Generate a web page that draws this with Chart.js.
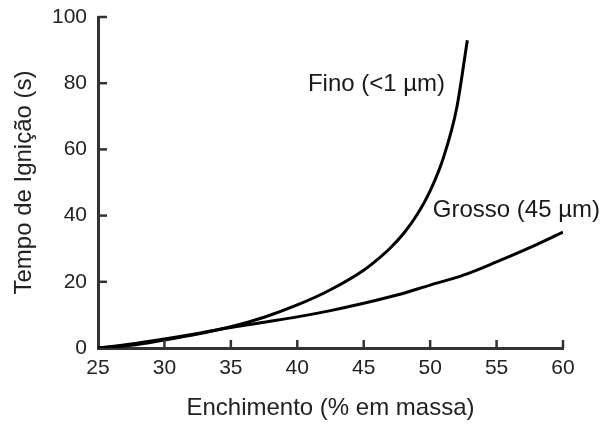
<!DOCTYPE html>
<html>
<head>
<meta charset="utf-8">
<script src="https://cdn.jsdelivr.net/npm/chart.js@4/dist/chart.umd.min.js"></script>
<style>
  html, body { margin: 0; padding: 0; background: #fff; }
  #wrap { width: 604px; height: 425px; position: relative; }
</style>
</head>
<body>
<div id="wrap"><canvas id="ignChart"></canvas></div>
<script>
// Fino (<1 um) curve
const fineX = [25, 27.5, 30, 32.5, 35, 37.5, 40, 42.5, 45, 46, 47, 48, 49, 50, 51, 52, 52.8];
const fineY = [0, 0.8, 2.4, 4.2, 6.4, 9.3, 13, 17.6, 23.5, 26.6, 30.2, 34.6, 40.2, 47.5, 57.5, 72.5, 93];

// Grosso (45 um) curve
const coarseX = [25, 27.5, 30, 32.5, 35, 37.5, 40, 42.5, 45, 47.5, 50, 52.5, 55, 57.5, 60];
const coarseY = [0, 1.2, 2.7, 4.4, 6.2, 7.8, 9.4, 11.3, 13.5, 16, 19, 22, 26, 30.3, 35];

// axis ticks
const xTicks = [25, 30, 35, 40, 45, 50, 55, 60];
const yTicks = [0, 20, 40, 60, 80, 100];

// curve labels [text, x, y]
const curveLabels = [
    ['Fino (<1 \u00b5m)', 40.8, 79.6],
    ['Grosso (45 \u00b5m)', 50.2, 41.5]
];

const axisColor = '#333';
const fontFam = '"Liberation Sans", Arial, sans-serif';

const toPoints = (xs, ys) => xs.map((x, i) => ({ x: x, y: ys[i] }));

// draw tick marks pointing into the plot, like the original figure
const innerTicks = {
    id: 'innerTicks',
    afterDraw(chart) {
        const ctx = chart.ctx;
        const xs = chart.scales.x;
        const ys = chart.scales.y;
        ctx.save();
        ctx.strokeStyle = axisColor;
        ctx.lineWidth = 2.5;
        xTicks.forEach(v => {
            if (v === xs.min) return;
            const px = xs.getPixelForValue(v);
            ctx.beginPath();
            ctx.moveTo(px, ys.bottom);
            ctx.lineTo(px, ys.bottom - 8);
            ctx.stroke();
        });
        yTicks.forEach(v => {
            if (v === ys.min) return;
            const py = ys.getPixelForValue(v);
            ctx.beginPath();
            ctx.moveTo(xs.left, py);
            ctx.lineTo(xs.left + 9, py);
            ctx.stroke();
        });
        ctx.restore();
    }
};

// curve name labels
const curveText = {
    id: 'curveText',
    afterDraw(chart) {
        const ctx = chart.ctx;
        const xs = chart.scales.x;
        const ys = chart.scales.y;
        ctx.save();
        ctx.fillStyle = '#1a1a1a';
        ctx.textBaseline = 'middle';
        ctx.textAlign = 'left';
        ctx.font = '24px ' + fontFam;
        curveLabels.forEach(([txt, x, y]) => {
            ctx.fillText(txt, xs.getPixelForValue(x), ys.getPixelForValue(y));
        });
        ctx.restore();
    }
};

new Chart(document.getElementById('ignChart'), {
    type: 'line',
    data: {
        datasets: [
            {
                label: 'Fino (<1 \u00b5m)',
                data: toPoints(fineX, fineY),
                borderColor: '#000',
                borderWidth: 3,
                pointRadius: 0,
                cubicInterpolationMode: 'monotone',
                fill: false
            },
            {
                label: 'Grosso (45 \u00b5m)',
                data: toPoints(coarseX, coarseY),
                borderColor: '#000',
                borderWidth: 3,
                pointRadius: 0,
                cubicInterpolationMode: 'monotone',
                fill: false
            }
        ]
    },
    options: {
        responsive: true,
        maintainAspectRatio: false,
        animation: false,
        layout: { padding: { top: 17, right: 41, left: 0, bottom: 0 } },
        plugins: {
            legend: { display: false },
            tooltip: { enabled: false }
        },
        scales: {
            x: {
                type: 'linear',
                min: 25,
                max: 60,
                afterBuildTicks: s => { s.ticks = xTicks.map(v => ({ value: v })); },
                afterFit: s => { s.height = 77; s.paddingRight = 0; s.paddingLeft = 0; },
                grid: { display: false, drawTicks: false },
                border: { display: true, color: axisColor, width: 3 },
                ticks: {
                    color: '#222',
                    padding: 8,
                    maxRotation: 0,
                    font: { family: fontFam, size: 21 }
                },
                title: {
                    display: true,
                    text: 'Enchimento (% em massa)',
                    color: '#222',
                    padding: { top: 0, bottom: 2 },
                    font: { family: fontFam, size: 24 }
                }
            },
            y: {
                min: 0,
                max: 100,
                afterBuildTicks: s => { s.ticks = yTicks.map(v => ({ value: v })); },
                afterFit: s => { s.width = 98; s.paddingTop = 0; s.paddingBottom = 0; },
                grid: { display: false, drawTicks: false },
                border: { display: true, color: axisColor, width: 3 },
                ticks: {
                    color: '#222',
                    padding: 11,
                    font: { family: fontFam, size: 21 }
                },
                title: {
                    display: true,
                    text: 'Tempo de Igni\u00e7\u00e3o (s)',
                    color: '#222',
                    padding: { top: 10, bottom: 0 },
                    font: { family: fontFam, size: 24 }
                }
            }
        }
    },
    plugins: [innerTicks, curveText]
});
</script>
</body>
</html>
